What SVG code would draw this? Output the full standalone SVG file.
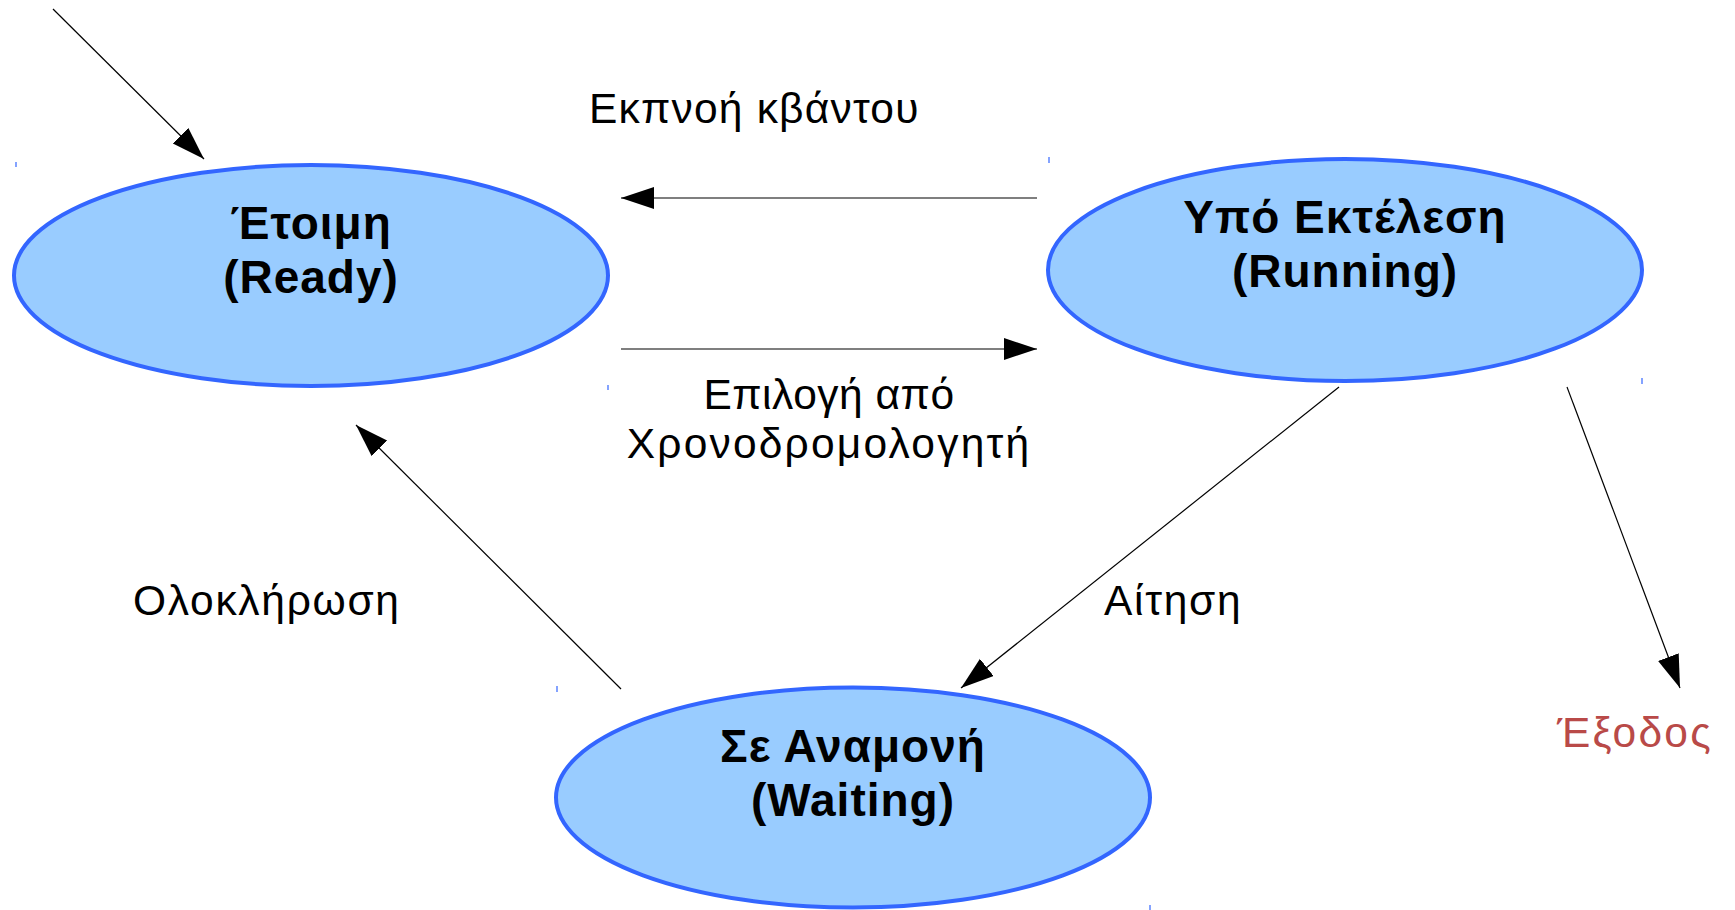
<svg xmlns="http://www.w3.org/2000/svg" width="1735" height="910" viewBox="0 0 1735 910">
<style>
.node ellipse{fill:#99ccff;stroke:#3366ff;stroke-width:4}
.title{font-family:"Liberation Sans","Open Sans",sans-serif;font-weight:bold;font-size:46px;letter-spacing:1px;fill:#000;text-anchor:middle}
.lbl{font-family:"Liberation Sans","Open Sans",sans-serif;font-size:42.5px;letter-spacing:1.7px;fill:#000}
.edge{stroke:#000;stroke-width:1.2;fill:none;marker-end:url(#arr)}
.tick{stroke:#3366ff;stroke-width:1.2}
</style>
<defs>
<marker id="arr" markerUnits="userSpaceOnUse" markerWidth="34" markerHeight="24" refX="33" refY="11" orient="auto">
<path d="M0,0 L33,11 L0,22 z" fill="#000"/>
</marker>
</defs>
<rect width="1735" height="910" fill="#fff"/>
<g id="ticks">
<line class="tick" x1="16" y1="162" x2="16" y2="167"/>
<line class="tick" x1="608" y1="385" x2="608" y2="390"/>
<line class="tick" x1="1049" y1="157" x2="1049" y2="163"/>
<line class="tick" x1="1642" y1="378" x2="1642" y2="384"/>
<line class="tick" x1="557" y1="686" x2="557" y2="692"/>
<line class="tick" x1="1150" y1="905" x2="1150" y2="910"/>
</g>
<g id="node-ready" class="node">
<ellipse cx="311" cy="275.5" rx="297" ry="110.5"/>
<text class="title" x="311" y="239">Έτοιμη</text>
<text class="title" x="311" y="292.5">(Ready)</text>
</g>
<g id="node-running" class="node">
<ellipse cx="1345" cy="270" rx="297" ry="111"/>
<text class="title" x="1345" y="233">Υπό Εκτέλεση</text>
<text class="title" x="1345" y="287">(Running)</text>
</g>
<g id="node-waiting" class="node">
<ellipse cx="853" cy="797.5" rx="297" ry="110"/>
<text class="title" x="853" y="762">Σε Αναμονή</text>
<text class="title" x="853" y="815.5">(Waiting)</text>
</g>
<g id="connectors">
<line class="edge" x1="53" y1="9" x2="204" y2="159"/>
<line class="edge" x1="1037" y1="198" x2="621" y2="198"/>
<line class="edge" x1="621" y1="349" x2="1037" y2="349"/>
<line class="edge" x1="621" y1="689" x2="356" y2="425"/>
<line class="edge" x1="1339" y1="387" x2="961" y2="688"/>
<line class="edge" x1="1567" y1="387" x2="1680" y2="688"/>
</g>
<g id="labels">
<text class="lbl" x="589" y="123" style="letter-spacing:1.2px">Εκπνοή κβάντου</text>
<text class="lbl" x="829" y="409" text-anchor="middle" style="letter-spacing:0.5px">Επιλογή από</text>
<text class="lbl" x="829" y="458" text-anchor="middle" style="letter-spacing:2.2px">Χρονοδρομολογητή</text>
<text class="lbl" x="133" y="615">Ολοκλήρωση</text>
<text class="lbl" x="1104" y="615">Αίτηση</text>
<text class="lbl" x="1557" y="747" style="fill:#b94a48;letter-spacing:2.2px">Έξοδος</text>
</g>
</svg>
